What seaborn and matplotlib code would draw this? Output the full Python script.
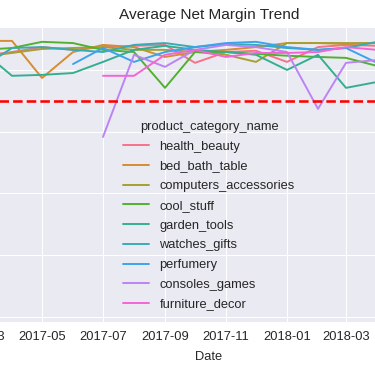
import numpy as np
import pandas as pd
import matplotlib.pyplot as plt
import matplotlib.dates as mdates
from matplotlib.ticker import MultipleLocator
import seaborn as sns

nan = np.nan

# monthly average net margin (%) per category
months = ['2017-03-01', '2017-04-01', '2017-05-01', '2017-06-01', '2017-07-01',
          '2017-08-01', '2017-09-01', '2017-10-01', '2017-11-01', '2017-12-01',
          '2018-01-01', '2018-02-01', '2018-03-01', '2018-04-01']
categories = ['health_beauty', 'bed_bath_table', 'computers_accessories', 'cool_stuff',
              'garden_tools', 'watches_gifts', 'perfumery', 'consoles_games', 'furniture_decor']

health_beauty = [24.6, 25.8, 27.4, 26.5, 27.4, 27.8, 28.1, 22.3, 25.8, 26.2, 22.6, 27.4, 28.1, 27.8]
bed_bath_table = [29.4, 29.4, 17.4, 25.8, 28.1, 27.4, 24.2, 25.8, 26.5, 27.4, 28.7, 28.7, 28.4, 28.7]
computers_accessories = [24.2, 25.5, 26.8, 27.1, 27.4, 26.5, 26.5, 25.8, 24.9, 22.6, 28.7, 28.7, 28.7, 28.7]
cool_stuff = [26.5, 27.1, 29.1, 28.7, 26.5, 25.8, 14.2, 25.8, 25.8, 25.2, 24.6, 24.2, 23.9, 21.3]
garden_tools = [26.5, 18.1, 18.4, 19.0, 22.6, 26.5, 27.8, 26.5, 25.8, 24.9, 20.0, 24.9, 14.2, 16.1]
watches_gifts = [20.6, 27.1, 27.4, 26.5, 25.8, 28.1, 28.7, 27.4, 28.4, 28.1, 27.1, 26.5, 27.1, 29.1]
perfumery = [nan, nan, nan, 21.9, 27.1, 22.6, 25.8, 27.4, 28.7, 29.1, 27.4, 26.5, 27.1, 22.3]
consoles_games = [nan, nan, nan, nan, -1.7, 24.9, 21.0, 26.5, 28.1, 27.4, 25.8, 7.4, 22.3, 23.2]
furniture_decor = [nan, nan, nan, nan, 18.1, 18.1, 24.9, 26.5, 24.2, 25.5, 25.5, 25.8, 27.4, 26.5]

target = 10

sns.set_style("darkgrid")
plt.rcParams['font.family'] = ['Liberation Sans', 'DejaVu Sans']
plt.rcParams['legend.frameon'] = False

df = pd.DataFrame({
    'Date': pd.to_datetime(months),
    'health_beauty': health_beauty,
    'bed_bath_table': bed_bath_table,
    'computers_accessories': computers_accessories,
    'cool_stuff': cool_stuff,
    'garden_tools': garden_tools,
    'watches_gifts': watches_gifts,
    'perfumery': perfumery,
    'consoles_games': consoles_games,
    'furniture_decor': furniture_decor,
})
long_df = df.melt(id_vars='Date', var_name='product_category_name',
                  value_name='net_margin').dropna()

dpi = 92.5
fig = plt.figure(figsize=(375 / dpi, 366 / dpi), dpi=dpi)
# the picture is a crop of a wider chart: axes run past both figure edges
ax = fig.add_axes([-110 / 375, 44 / 366, 638 / 375, 295 / 366])

sns.lineplot(data=long_df, x='Date', y='net_margin', hue='product_category_name',
             hue_order=categories, palette='husl', ax=ax)
ax.axhline(target, color='red', linestyle='--', linewidth=2)

ax.set_xlim(pd.Timestamp('2016-11-30'), pd.Timestamp('2018-08-30'))
ax.set_ylim(-61.6, 33.9)
ax.yaxis.set_major_locator(MultipleLocator(20))
ax.xaxis.set_major_locator(mdates.MonthLocator(bymonth=[1, 3, 5, 7, 9, 11]))
ax.xaxis.set_major_formatter(mdates.DateFormatter('%Y-%m'))
ax.set_xlabel('Date', labelpad=6)
ax.set_title('Average Net Margin Trend')
sns.move_legend(ax, 'lower center', labelspacing=0.6)

fig.savefig('out.png', dpi=dpi)
